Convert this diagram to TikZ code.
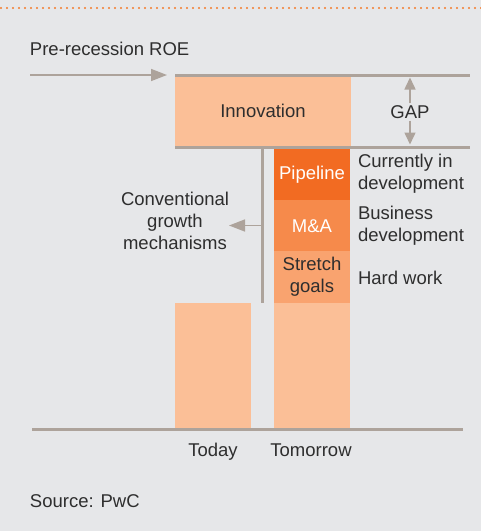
\documentclass[tikz,border=0pt]{standalone}
\usepackage{fontspec}
\setmainfont{Liberation Sans}
\usetikzlibrary{arrows.meta}
\definecolor{bg}{HTML}{E6E7E9}
\definecolor{dotorange}{HTML}{F47B2A}
\definecolor{linegray}{HTML}{ADA39B}
\definecolor{peach}{HTML}{FBBF97}
\definecolor{pipe}{HTML}{F26B22}
\definecolor{mna}{HTML}{F68A4B}
\definecolor{stretch}{HTML}{F9A36F}
\definecolor{txt}{HTML}{2E2E2E}
\tikzset{
  box/.style={draw=none, inner sep=0pt, outer sep=0pt, anchor=north west, align=center, text=txt},
  lbl/.style={inner sep=0pt, outer sep=0pt, text=txt, align=center},
  rlbl/.style={inner sep=0pt, outer sep=0pt, text=txt, align=left, anchor=west},
  rule/.style={draw=linegray, line width=3pt},
  arr/.style={draw=linegray, line width=1.5pt, -{Triangle[length=16pt,width=12pt]}},
  sarr/.style={draw=linegray, line width=1.5pt, -{Triangle[length=12pt,width=11pt]}}
}
\begin{document}
\begin{tikzpicture}[x=1pt,y=-1pt, font=\fontsize{18.5}{22}\selectfont]
\useasboundingbox[fill=bg] (0,0) rectangle (481,531);
% dotted top rule
\draw[dotorange, line width=2.2pt, dash pattern=on 0pt off 6pt, line cap=round] (1,8) -- (481,8);
% title
\node[rlbl] (pre) at (30,49) {Pre-recession ROE};
\coordinate (preS) at (30,75);
\coordinate (preE) at (167,75);
\draw[arr] (preS) -- (preE);
% innovation box
\node[box, fill=peach, minimum width=176pt, minimum height=69pt] (innov) at (175,76.5) {Innovation};
% top and gap lines
\coordinate (topL) at (175,75);
\coordinate (topR) at (470,75);
\coordinate (midL) at (175,147);
\coordinate (midR) at (470,147);
\draw[rule] (topL) -- (topR);
\draw[rule] (midL) -- (midR);
% GAP
\node[lbl] (gap) at (410,112) {GAP};
\coordinate (gapT) at (410,77.5);
\coordinate (gapB) at (410,144.5);
\draw[sarr] (gap.north) ++(0,-2) -- (gapT);
\draw[sarr] (gap.south) ++(0,2) -- (gapB);
% stacked tomorrow blocks
\node[box, fill=pipe, minimum width=76pt, minimum height=52pt, text=white] (pipeline) at (274,148.5) {Pipeline};
\node[box, fill=mna, minimum width=76pt, minimum height=52pt, text=white] (ma) at (274,199.8) {M\&A};
\node[box, fill=stretch, minimum width=76pt, minimum height=52pt] (stretchg) at (274,251.2) {Stretch\\goals};
\node[box, fill=peach, minimum width=76pt, minimum height=126pt] (tomorrowbar) at (274,302.5) {};
\node[box, fill=peach, minimum width=76pt, minimum height=126pt] (todaybar) at (175,302.5) {};
% vertical bracket line and arrow
\coordinate (vT) at (262.5,148.5);
\coordinate (vB) at (262.5,302.5);
\coordinate (vM) at (262.5,225.5);
\draw[draw=linegray, line width=3pt] (vT) -- (vB);
\node[lbl] (conv) at (175,221) {Conventional\\growth\\mechanisms};
\coordinate (convA) at (229,225.5);
\draw[arr] (vM) -- (convA);
% right labels
\node[rlbl] (cur) at (358,174) {Currently in\\development};
\node[rlbl] (bus) at (358,226) {Business\\development};
\node[rlbl] (hard) at (358,278) {Hard work};
% baseline
\coordinate (bL) at (32,429.5);
\coordinate (bR) at (463,429.5);
\draw[rule] (bL) -- (bR);
% axis labels
\node[lbl, anchor=base] (today) at (213,456) {Today};
\node[lbl, anchor=base] (tomorrow) at (311,456) {Tomorrow};
% source
\node[rlbl, anchor=base west] (src) at (30,507) {Source: PwC};
\end{tikzpicture}
\end{document}
